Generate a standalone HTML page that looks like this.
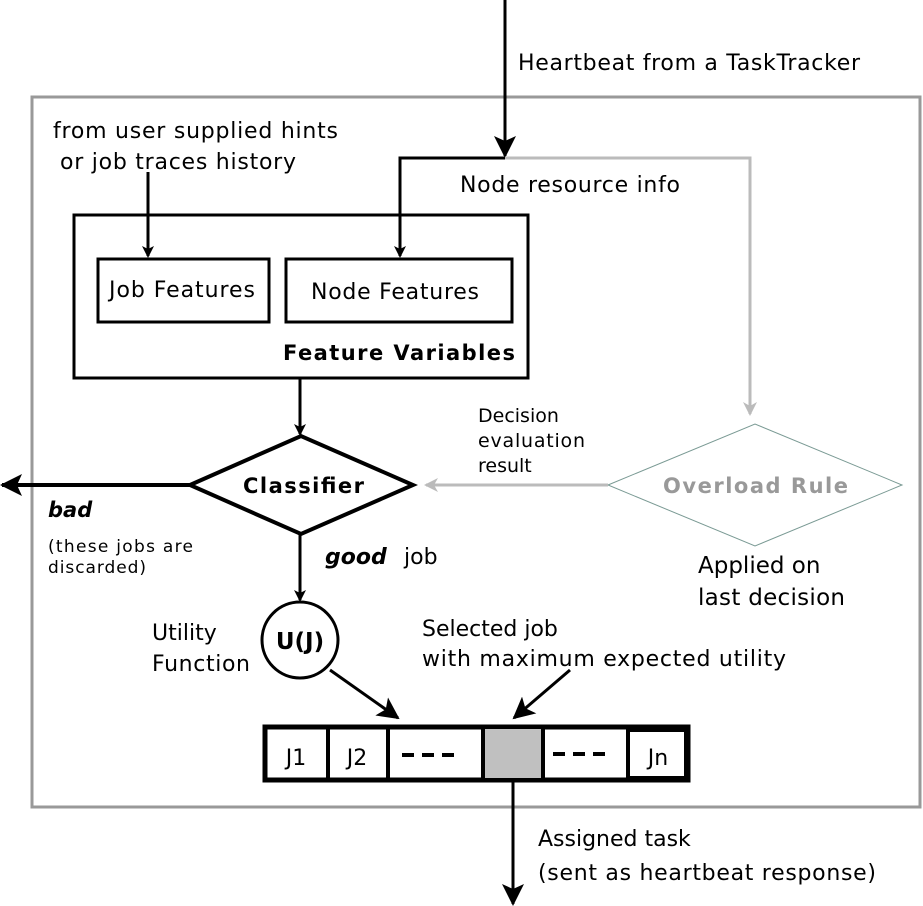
<!DOCTYPE html>
<html><head><meta charset="utf-8"><style>
body{margin:0;background:#fff}
svg{display:block}
text{font-family:"DejaVu Sans","Liberation Sans",sans-serif;fill:#000}
</style></head><body>
<svg width="923" height="906" viewBox="0 0 923 906" xmlns="http://www.w3.org/2000/svg">
<defs>
<marker id="a" markerWidth="12" markerHeight="12" refX="10" refY="6" orient="auto" markerUnits="userSpaceOnUse"><path d="M0,0 L12,6 L0,12 L3,6 z" fill="#000"/></marker>
<marker id="ab" markerWidth="22" markerHeight="22" refX="20" refY="11" orient="auto" markerUnits="userSpaceOnUse"><path d="M0,0 L22,11 L0,22 L5,11 z" fill="#000"/></marker>
<marker id="g" markerWidth="14" markerHeight="14" refX="12" refY="7" orient="auto" markerUnits="userSpaceOnUse"><path d="M0,0 L14,7 L0,14 L4,7 z" fill="#bbb"/></marker>
</defs>
<rect x="32" y="97" width="888" height="710" fill="none" stroke="#999" stroke-width="3"/>
<line x1="505" y1="0" x2="505" y2="156" stroke="#000" stroke-width="3" marker-end="url(#ab)"/>
<text x="518" y="70" font-size="22" textLength="342">Heartbeat from a TaskTracker</text>
<polyline points="505,158 750,158 750,414" fill="none" stroke="#bbb" stroke-width="3" marker-end="url(#g)"/>
<polyline points="505,158 400,158 400,256" fill="none" stroke="#000" stroke-width="3" marker-end="url(#a)"/>
<text x="460" y="192" font-size="22" textLength="220">Node resource info</text>
<text x="53" y="138" font-size="22" textLength="285">from user supplied hints</text>
<text x="60" y="169" font-size="22" textLength="236">or job traces history</text>
<line x1="148" y1="172" x2="148" y2="256" stroke="#000" stroke-width="3" marker-end="url(#a)"/>
<rect x="74" y="215" width="454" height="163" fill="none" stroke="#000" stroke-width="3"/>
<rect x="98" y="259" width="171" height="63" fill="none" stroke="#000" stroke-width="3"/>
<rect x="286" y="259" width="226" height="63" fill="none" stroke="#000" stroke-width="3"/>
<text x="109" y="297" font-size="22" textLength="146">Job Features</text>
<text x="311" y="299" font-size="22" textLength="168">Node Features</text>
<text x="283" y="360" font-size="21" font-weight="bold" textLength="232">Feature Variables</text>
<line x1="300" y1="378" x2="300" y2="434" stroke="#000" stroke-width="3" marker-end="url(#a)"/>
<polygon points="190,485 301,436 413,485 301,534" fill="#fff" stroke="#000" stroke-width="4"/>
<text x="243" y="493" font-size="21" font-weight="bold" textLength="121">Classifier</text>
<line x1="190" y1="485" x2="2" y2="485" stroke="#000" stroke-width="4" marker-end="url(#ab)"/>
<text x="48" y="517" font-size="21" font-weight="bold" font-style="italic">bad</text>
<text x="48" y="552" font-size="17" textLength="145">(these jobs are</text>
<text x="48" y="573" font-size="17" textLength="98">discarded)</text>
<line x1="300" y1="534" x2="300" y2="600" stroke="#000" stroke-width="3" marker-end="url(#a)"/>
<text x="325" y="564" font-size="22" font-weight="bold" font-style="italic">good</text>
<text x="404" y="564" font-size="22">job</text>
<circle cx="300" cy="640" r="38" fill="#fff" stroke="#000" stroke-width="3"/>
<text x="300" y="649" font-size="23" font-weight="bold" text-anchor="middle">U(J)</text>
<text x="152" y="640" font-size="22">Utility</text>
<text x="152" y="671" font-size="22" textLength="98">Function</text>
<polygon points="608,485 755,424 902,485 755,546" fill="#fff" stroke="#7a9a94" stroke-width="1"/>
<text x="663" y="493" font-size="21" font-weight="bold" textLength="185" style="fill:#999">Overload Rule</text>
<line x1="608" y1="485" x2="426" y2="485" stroke="#bbb" stroke-width="3" marker-end="url(#g)"/>
<text x="478" y="422" font-size="19">Decision</text>
<text x="478" y="447" font-size="19" textLength="107">evaluation</text>
<text x="478" y="472" font-size="19">result</text>
<text x="698" y="573" font-size="23">Applied on</text>
<text x="698" y="605" font-size="23" textLength="147">last decision</text>
<text x="422" y="636" font-size="22">Selected job</text>
<text x="422" y="666" font-size="22" textLength="364">with maximum expected utility</text>
<line x1="330" y1="670" x2="398" y2="718" stroke="#000" stroke-width="3" marker-end="url(#ab)"/>
<line x1="570" y1="670" x2="514" y2="718" stroke="#000" stroke-width="3" marker-end="url(#ab)"/>
<rect x="265" y="727" width="423" height="53" fill="#fff" stroke="#000" stroke-width="5"/>
<rect x="483" y="727" width="60" height="53" fill="#c0c0c0" stroke="#000" stroke-width="4"/>
<line x1="328" y1="727" x2="328" y2="780" stroke="#000" stroke-width="4"/>
<line x1="388" y1="727" x2="388" y2="780" stroke="#000" stroke-width="4"/>
<rect x="628" y="730" width="58" height="48" fill="none" stroke="#000" stroke-width="4"/>
<text x="296" y="765" font-size="22" text-anchor="middle">J1</text>
<text x="357" y="765" font-size="22" text-anchor="middle">J2</text>
<text x="658" y="765" font-size="22" text-anchor="middle">Jn</text>
<line x1="402" y1="755" x2="462" y2="755" stroke="#000" stroke-width="4" stroke-dasharray="12,8"/>
<line x1="553" y1="754" x2="613" y2="754" stroke="#000" stroke-width="4" stroke-dasharray="12,8"/>
<line x1="513" y1="782" x2="513" y2="904" stroke="#000" stroke-width="3" marker-end="url(#ab)"/>
<text x="538" y="846" font-size="22">Assigned task</text>
<text x="538" y="880" font-size="22" textLength="338">(sent as heartbeat response)</text>
</svg>
</body></html>
